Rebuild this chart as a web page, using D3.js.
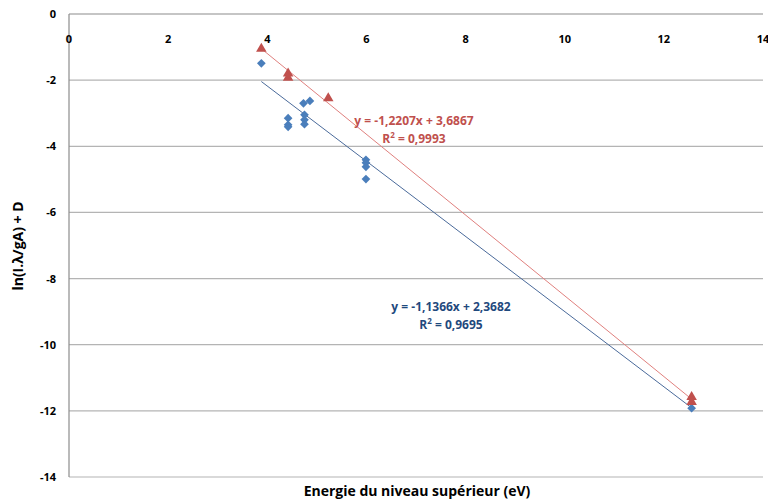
<!DOCTYPE html>
<html>
<head>
<meta charset="utf-8">
<script src="https://cdn.jsdelivr.net/npm/d3@7"></script>
<style>
  body { margin: 0; background: #fff; }
  text { font-family: "Open Sans", "Liberation Sans", sans-serif; font-weight: bold; }
</style>
</head>
<body>
<div id="chart"></div>
<script>
// x ticks and y ticks
let xTicks = [0, 2, 4, 6, 8, 10, 12, 14]
let yTicks = [0, -2, -4, -6, -8, -10, -12, -14]

// series 1 (blue diamonds)
let blueX = [3.88, 4.42, 4.42, 4.42, 4.73, 4.86, 4.75, 4.75, 4.75, 5.99, 5.99, 5.99, 5.99, 12.56]
let blueY = [-1.49, -3.15, -3.35, -3.41, -2.70, -2.63, -3.05, -3.20, -3.33, -4.41, -4.50, -4.62, -4.99, -11.92]

// series 2 (red triangles)
let redX = [3.88, 4.42, 4.42, 5.23, 12.56, 12.56]
let redY = [-1.05, -1.80, -1.93, -2.55, -11.58, -11.73]

// linear trends
let blueFit = { slope: -1.1366, intercept: 2.3682, r2: "0,9695", eq: "y = -1,1366x + 2,3682" }
let redFit = { slope: -1.2207, intercept: 3.6867, r2: "0,9993", eq: "y = -1,2207x + 3,6867" }

let width = 768,
    height = 500

let svg = d3.select("#chart").append("svg")
  .attr("width", width)
  .attr("height", height)

let x = d3.scaleLinear().domain([0, 14]).range([69, 763])
let y = d3.scaleLinear().domain([0, -14]).range([14, 477])

// gridlines
svg.append("g")
  .selectAll("line")
  .data(yTicks)
  .enter().append("line")
  .attr("x1", x(0)).attr("x2", x(14))
  .attr("y1", d => y(d)).attr("y2", d => y(d))
  .attr("stroke", d => d === 0 ? "#8c8c8c" : "#b4b4b4")
  .attr("stroke-width", 1.2)

// y axis line
svg.append("line")
  .attr("x1", x(0)).attr("x2", x(0))
  .attr("y1", y(0)).attr("y2", y(-14))
  .attr("stroke", "#8c8c8c")
  .attr("stroke-width", 1.2)

// y tick labels
svg.append("g")
  .selectAll("text")
  .data(yTicks)
  .enter().append("text")
  .attr("x", 56)
  .attr("y", d => y(d) + 4)
  .attr("text-anchor", "end")
  .attr("font-size", 11)
  .attr("fill", "#000")
  .text(d => d === 0 ? "0" : "-" + Math.abs(d))

// x tick labels (shown under the zero line)
svg.append("g")
  .selectAll("text")
  .data(xTicks)
  .enter().append("text")
  .attr("x", d => x(d))
  .attr("y", 43)
  .attr("text-anchor", "middle")
  .attr("font-size", 11)
  .attr("fill", "#000")
  .text(d => d)

// trend lines
function trend(fit, xs) {
  let x0 = d3.min(xs), x1 = d3.max(xs)
  return [[x0, fit.slope * x0 + fit.intercept], [x1, fit.slope * x1 + fit.intercept]]
}
let line = d3.line().x(d => x(d[0])).y(d => y(d[1]))

svg.append("path")
  .attr("d", line(trend(redFit, redX)))
  .attr("stroke", "#e0807e")
  .attr("stroke-width", 1)
  .attr("fill", "none")

svg.append("path")
  .attr("d", line(trend(blueFit, blueX)))
  .attr("stroke", "#4a6a9a")
  .attr("stroke-width", 1)
  .attr("fill", "none")

// markers
let diamond = d3.symbol().type(d3.symbolSquare).size(38)
svg.append("g")
  .selectAll("path")
  .data(blueX.map((d, i) => [d, blueY[i]]))
  .enter().append("path")
  .attr("d", diamond)
  .attr("transform", d => "translate(" + x(d[0]) + "," + y(d[1]) + ") rotate(45)")
  .attr("fill", "#4a7ebb")

let tri = d3.symbol().type(d3.symbolTriangle).size(48)
svg.append("g")
  .selectAll("path")
  .data(redX.map((d, i) => [d, redY[i]]))
  .enter().append("path")
  .attr("d", tri)
  .attr("transform", d => "translate(" + x(d[0]) + "," + y(d[1]) + ")")
  .attr("fill", "#c0504d")

// equation labels
function eqLabel(fit, cx, cy, color) {
  let g = svg.append("g").attr("fill", color).attr("font-size", 12).attr("text-anchor", "middle")
  g.append("text").attr("x", cx).attr("y", cy).text(fit.eq)
  let t = g.append("text").attr("x", cx).attr("y", cy + 18)
  t.append("tspan").text("R")
  t.append("tspan").attr("font-size", 8).attr("dy", -5).text("2")
  t.append("tspan").attr("dy", 5).text(" = " + fit.r2)
}
eqLabel(redFit, 414, 125, "#c0504d")
eqLabel(blueFit, 451, 311, "#1f497d")

// axis titles
svg.append("text")
  .attr("x", 417)
  .attr("y", 496)
  .attr("text-anchor", "middle")
  .attr("font-size", 14)
  .text("Energie du niveau supérieur (eV)")

svg.append("text")
  .attr("transform", "translate(23,246) rotate(-90)")
  .attr("text-anchor", "middle")
  .attr("font-size", 14)
  .text("ln(I.λ/gA) + D")
</script>
</body>
</html>
